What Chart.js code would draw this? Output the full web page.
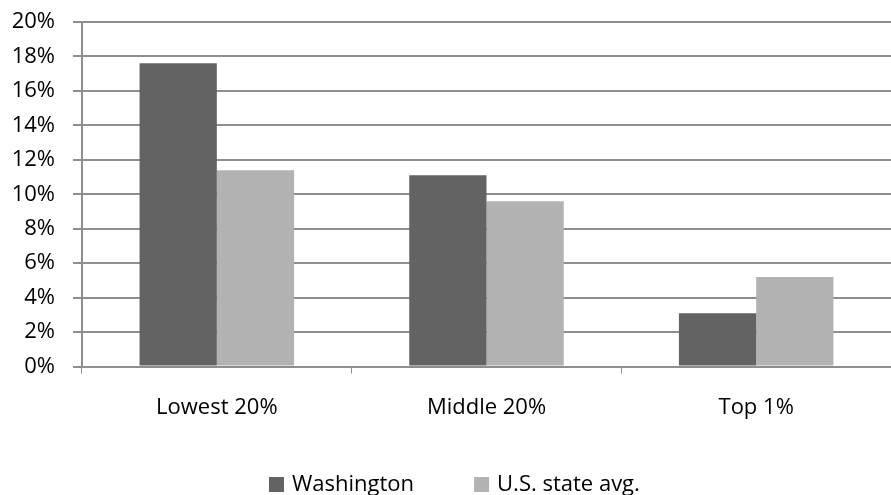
<!DOCTYPE html>
<html>
<head>
<meta charset="utf-8">
<script src="https://cdn.jsdelivr.net/npm/chart.js@4"></script>
<style>
  html, body { margin: 0; padding: 0; background: #fff; }
  #wrap { width: 891px; height: 495px; position: relative; }
</style>
</head>
<body>
<div id="wrap"><canvas id="c"></canvas></div>
<script>
// Income groups and share of income paid in state & local taxes
const categories = ['Lowest 20%', 'Middle 20%', 'Top 1%'];
const washington = [17.6, 11.1, 3.1];
const usAverage = [11.4, 9.6, 5.2];
const seriesNames = ['Washington', 'U.S. state avg.'];
const seriesColors = ['#636363', '#b2b2b2'];

const FONT = '"Open Sans", sans-serif';
const FONT_SIZE = 22;

// Legend drawn under the axis labels with wide spacing between entries
const bottomLegend = {
  id: 'bottomLegend',
  afterDraw(chart) {
    const ctx = chart.ctx;
    ctx.save();
    ctx.font = FONT_SIZE + 'px ' + FONT;
    ctx.textBaseline = 'alphabetic';
    const box = 15, gapBoxText = 8, gapItems = 60;
    const items = chart.data.datasets.map(ds => ({ label: ds.label, color: ds.backgroundColor, w: ctx.measureText(ds.label).width }));
    let total = 0;
    items.forEach((it, i) => { total += box + gapBoxText + it.w + (i < items.length - 1 ? gapItems : 0); });
    let x = Math.round((chart.width - total) / 2 + 9);
    const baseline = 491;
    items.forEach(it => {
      ctx.fillStyle = it.color;
      ctx.fillRect(x, 477, box, box);
      ctx.fillStyle = '#000';
      ctx.fillText(it.label, x + box + gapBoxText, baseline);
      x += box + gapBoxText + it.w + gapItems;
    });
    ctx.restore();
  }
};

new Chart(document.getElementById('c'), {
  type: 'bar',
  data: {
    labels: categories,
    datasets: [
      { label: seriesNames[0], data: washington, backgroundColor: seriesColors[0] },
      { label: seriesNames[1], data: usAverage, backgroundColor: seriesColors[1] }
    ]
  },
  options: {
    responsive: true,
    maintainAspectRatio: false,
    animation: false,
    devicePixelRatio: 1,
    layout: { padding: { top: 22, left: 12, right: 0, bottom: 53 } },
    datasets: { bar: { categoryPercentage: 0.573, barPercentage: 1.0 } },
    plugins: {
      legend: { display: false },
      tooltip: { enabled: false }
    },
    scales: {
      x: {
        offset: true,
        grid: { offset: true, drawOnChartArea: false, drawTicks: true, tickLength: 7, color: '#8e8e8e', lineWidth: 1 },
        border: { color: '#8e8e8e', width: 2 },
        ticks: { color: '#000', font: { family: FONT, size: FONT_SIZE }, padding: 21, maxRotation: 0 }
      },
      y: {
        min: 0, max: 20,
        afterFit(scale) {
          scale.width = 70;
          scale.paddingTop = 0;
          scale.paddingBottom = 0;
        },
        grid: { color: '#8e8e8e', lineWidth: 2, tickLength: 9 },
        border: { color: '#8e8e8e', width: 2 },
        ticks: { stepSize: 2, color: '#000', font: { family: FONT, size: FONT_SIZE }, padding: 18, callback: v => v + '%' }
      }
    }
  },
  plugins: [bottomLegend]
});
</script>
</body>
</html>
